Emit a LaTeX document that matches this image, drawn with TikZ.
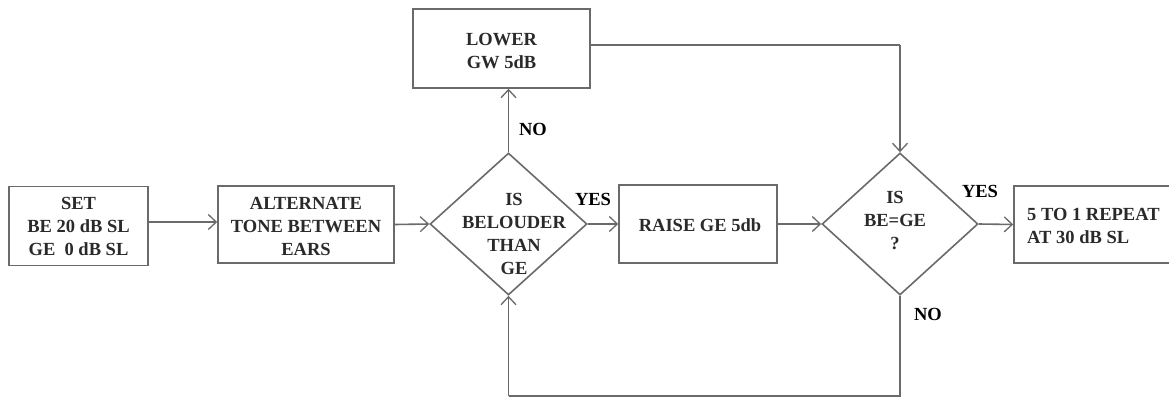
\documentclass[tikz,border=0pt]{standalone}
\usepackage{fontspec}
\setmainfont{Liberation Serif}
\usetikzlibrary{arrows.meta,shapes.geometric}
\definecolor{linecol}{HTML}{6A6A6A}
\definecolor{txtcol}{HTML}{2A2A2A}
\tikzset{
  box/.style={draw=linecol, line width=1.6pt, rectangle, inner sep=0pt},
  dia/.style={draw=linecol, line width=1.6pt, diamond, inner sep=0pt},
  txt/.style={text=txtcol, font=\bfseries\fontsize{18.5}{23}\selectfont, align=center, inner sep=0pt},
  lbl/.style={text=black, font=\bfseries\fontsize{18.5}{23}\selectfont, inner sep=0pt},
  arr/.style={draw=linecol, line width=1.6pt, -{Straight Barb[length=8pt,width=15pt,line width=1.3pt]}},
  ln/.style={draw=linecol, line width=1.6pt}
}
\begin{document}
\begin{tikzpicture}[x=1pt,y=-1pt]
\clip (0,0) rectangle (1169,398);
\fill[white] (0,0) rectangle (1169,398);
% boxes
\node[box, minimum width=139pt, minimum height=79pt] (set) at (78.5,226) {};
\node[txt] (settxt) at (78.5,226) {SET\\BE 20 dB SL\\GE\ \ 0 dB SL};
\node[box, minimum width=176pt, minimum height=77pt] (alt) at (306,224.5) {};
\node[txt] (alttxt) at (306,226) {ALTERNATE\\TONE BETWEEN\\EARS};
\node[box, minimum width=177pt, minimum height=79pt] (lower) at (501.5,48.5) {};
\node[txt] (lowertxt) at (501.5,51) {LOWER\\GW 5dB};
\node[box, minimum width=158pt, minimum height=78pt] (raise) at (698,224) {};
\node[txt] (raisetxt) at (700,225) {RAISE GE 5db};
\node[box, minimum width=176pt, minimum height=77pt] (rep) at (1102,224.5) {};
\node[txt, align=left, anchor=west] (reptxt) at (1027,226) {5 TO 1 REPEAT\\AT 30 dB SL};
% diamonds
\node[dia, minimum width=157pt, minimum height=142pt] (d1) at (508.5,224) {};
\node[txt] (d1txt) at (514,234) {IS\\BELOUDER\\THAN\\GE};
\node[dia, minimum width=156pt, minimum height=142pt] (d2) at (900,224) {};
\node[txt] (d2txt) at (895,221) {IS\\BE=GE\\?};
% labels
\node[lbl] (yes1) at (593,199) {YES};
\node[lbl] (no1) at (533,129) {NO};
\node[lbl] (yes2) at (980,191) {YES};
\node[lbl] (no2) at (928,314) {NO};
% connectors
\draw[arr] ([yshift=4pt]set.east) -- ([yshift=4pt]set.east -| alt.west);
\draw[arr] (alt.east) -- (d1.west);
\draw[arr] (d1.east) -- (raise.west);
\draw[arr] (raise.east) -- (d2.west);
\draw[arr] (d2.east) -- (rep.west);
\draw[arr] (d1.north) -- (d1.north |- lower.south);
\coordinate (tr) at (900,45);
\draw[ln] (lower.east |- tr) -- (tr);
\draw[arr] (tr) -- (d2.north);
\coordinate (br) at (900,396);
\coordinate (bl) at (508.5,396);
\draw[ln] (d2.south) -- (br) -- (bl);
\draw[arr] (bl) -- (d1.south);
\end{tikzpicture}
\end{document}
